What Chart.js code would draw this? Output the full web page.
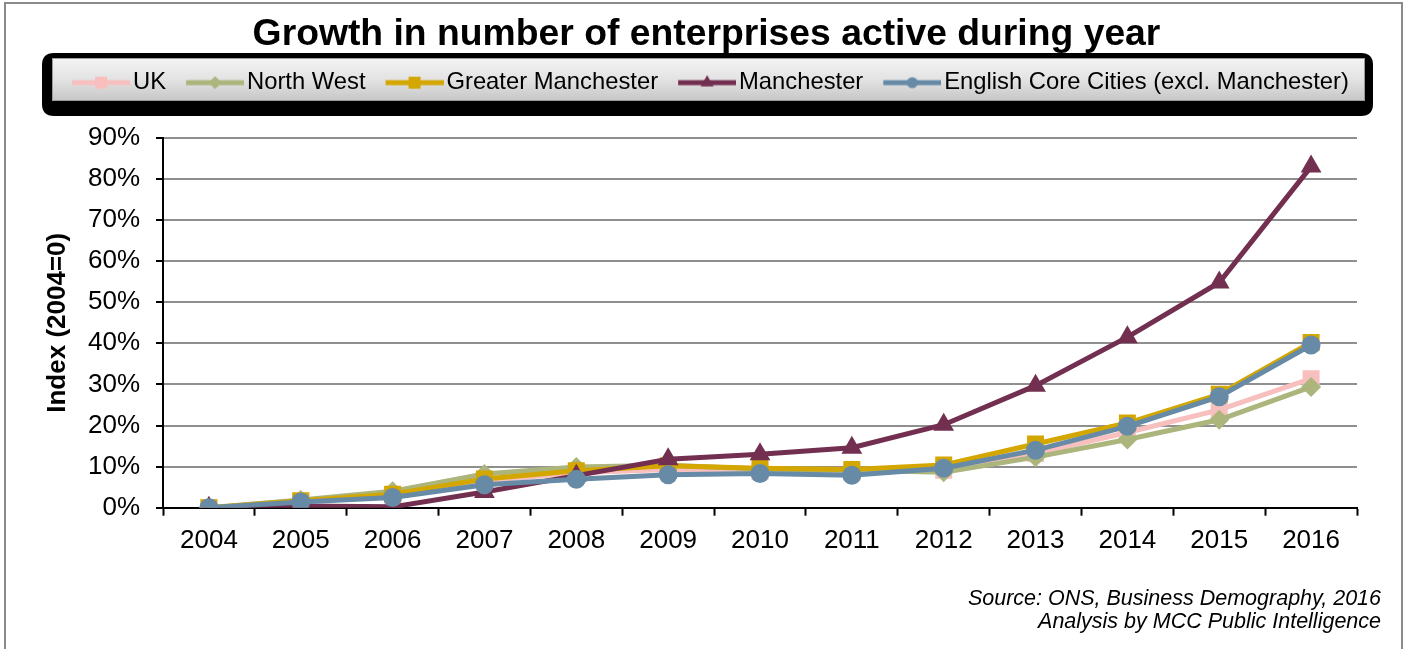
<!DOCTYPE html>
<html>
<head>
<meta charset="utf-8">
<script src="https://cdn.jsdelivr.net/npm/chart.js@4/dist/chart.umd.min.js"></script>
<style>
html,body{margin:0;padding:0;background:#fff;}
canvas{display:block;}
</style>
</head>
<body>
<canvas id="c" width="1406" height="649"></canvas>
<script>
// ---- data ----
const years = ['2004','2005','2006','2007','2008','2009','2010','2011','2012','2013','2014','2015','2016'];
const seriesNames = ['UK','North West','Greater Manchester','Manchester','English Core Cities (excl. Manchester)'];
const ukValues = [0, 1.6, 3.0, 6.5, 8.5, 9.3, 8.8, 8.6, 9.1, 13.2, 18.3, 23.8, 31.4];
const northWestValues = [0, 1.9, 4.0, 8.2, 9.9, 10.3, 9.4, 9.1, 8.6, 12.3, 16.6, 21.4, 29.4];
const greaterManchesterValues = [0, 1.7, 3.3, 7.0, 9.0, 10.2, 9.6, 9.3, 10.4, 15.5, 20.6, 27.6, 40.2];
const manchesterValues = [0, 0.4, 0.2, 3.8, 7.8, 11.8, 13.0, 14.6, 20.2, 29.7, 41.5, 54.8, 83.0];
const coreCitiesValues = [0, 1.4, 2.5, 5.6, 6.9, 8.0, 8.3, 7.9, 9.6, 14.0, 19.8, 27.0, 39.6];
const yTickStep = 10;
const yMin = 0;
const yMax = 90;
const titleText = 'Growth in number of enterprises active during year';
const yAxisTitle = 'Index (2004=0)';
const sourceLines = ['Source: ONS, Business Demography, 2016', 'Analysis by MCC Public Intelligence'];

// ---- styles ----
const colors = ['#f8bfbf', '#abb57c', '#d4a600', '#722f50', '#678ba6'];
const pointStyles = ['rect', 'rectRot', 'rect', 'triangle', 'circle'];
const pointRadii = [12, 10, 12, 12, 9.5];
const legendMarker = [6, 6.5, 6, 7.5, 5.5];

Chart.defaults.font.family = "'Liberation Sans', Arial, sans-serif";
Chart.defaults.color = '#000';

function markerPath(g, style, r, x, y) {
  g.beginPath();
  if (style === 'rect') {
    const s = r * Math.SQRT1_2;
    g.rect(x - s, y - s, 2 * s, 2 * s);
  } else if (style === 'rectRot') {
    g.moveTo(x, y - r); g.lineTo(x + r, y); g.lineTo(x, y + r); g.lineTo(x - r, y); g.closePath();
  } else if (style === 'triangle') {
    const a = 2 * Math.PI / 3;
    g.moveTo(x, y - r);
    g.lineTo(x + Math.sin(a) * r, y - Math.cos(a) * r);
    g.lineTo(x - Math.sin(a) * r, y - Math.cos(a) * r);
    g.closePath();
  } else {
    g.arc(x, y, r, 0, Math.PI * 2);
  }
}
function legendIcon(color, style, r) {
  const c = document.createElement('canvas');
  c.width = 75; c.height = 24;
  const g = c.getContext('2d');
  g.strokeStyle = color; g.lineWidth = 5;
  g.beginPath(); g.moveTo(17, 12); g.lineTo(75, 12); g.stroke();
  g.fillStyle = color;
  const s = style === 'rect' ? r * Math.SQRT2 : r;
  markerPath(g, style, s, 46, 12);
  g.fill();
  return c;
}
const icons = colors.map((c, i) => legendIcon(c, pointStyles[i], legendMarker[i]));

const seriesValues = [ukValues, northWestValues, greaterManchesterValues, manchesterValues, coreCitiesValues];
const datasets = seriesValues.map((vals, i) => ({
  label: seriesNames[i],
  data: vals,
  borderColor: colors[i],
  backgroundColor: colors[i],
  pointBackgroundColor: colors[i],
  pointBorderWidth: 0,
  pointStyle: pointStyles[i],
  pointRadius: pointRadii[i],
  borderWidth: 5,
  tension: 0,
  order: seriesValues.length - i
}));

const framePlugin = {
  id: 'frame',
  beforeDraw(chart) {
    const ctx = chart.ctx;
    ctx.save();
    ctx.fillStyle = '#fff';
    ctx.fillRect(0, 0, chart.width, chart.height);
    // outer frame
    ctx.strokeStyle = '#8a8a8a';
    ctx.lineWidth = 2;
    ctx.beginPath();
    ctx.moveTo(5, chart.height + 2); ctx.lineTo(5, 3); ctx.lineTo(1402, 3); ctx.lineTo(1402, chart.height + 2);
    ctx.stroke();
    // legend box: black rounded frame
    const x = 42, y = 53, w = 1331, h = 63, r = 12;
    ctx.fillStyle = '#000';
    ctx.beginPath();
    ctx.moveTo(x + r, y); ctx.lineTo(x + w - r, y); ctx.quadraticCurveTo(x + w, y, x + w, y + r);
    ctx.lineTo(x + w, y + h - r); ctx.quadraticCurveTo(x + w, y + h, x + w - r, y + h);
    ctx.lineTo(x + r, y + h); ctx.quadraticCurveTo(x, y + h, x, y + h - r);
    ctx.lineTo(x, y + r); ctx.quadraticCurveTo(x, y, x + r, y);
    ctx.closePath(); ctx.fill();
    const ix = 52, iy = 58, iw = 1313, ih = 43;
    const gr = ctx.createLinearGradient(0, iy, 0, iy + ih);
    gr.addColorStop(0, '#f3f3f3');
    gr.addColorStop(0.5, '#e3e3e3');
    gr.addColorStop(1, '#c6c6c6');
    ctx.fillStyle = gr;
    ctx.fillRect(ix, iy, iw, ih);
    ctx.strokeStyle = '#9a9a9a'; ctx.lineWidth = 1;
    ctx.strokeRect(ix + 0.5, iy + 0.5, iw - 1, ih - 1);
    ctx.restore();
  }
};

new Chart(document.getElementById('c'), {
  type: 'line',
  data: { labels: years, datasets: datasets },
  plugins: [framePlugin],
  options: {
    responsive: false,
    maintainAspectRatio: false,
    devicePixelRatio: 1,
    animation: false,
    events: [],
    layout: { padding: { left: 32, right: 25, top: 0, bottom: 0 } },
    plugins: {
      tooltip: { enabled: false },
      title: {
        display: true, text: titleText, color: '#000',
        font: { size: 37.3, weight: 'bold' },
        padding: { top: 12, bottom: 2 }
      },
      subtitle: {
        display: true, position: 'bottom', align: 'end', text: sourceLines, color: '#000',
        font: { size: 21.5, style: 'italic', lineHeight: 1.07 },
        padding: { top: 30.8, bottom: 15.5 }
      },
      legend: {
        display: true, position: 'top',
        labels: {
          usePointStyle: true,
          pointStyleWidth: 57,
          padding: 12,
          color: '#000',
          font: { size: 23.8 },
          generateLabels(chart) {
            return chart.data.datasets.map((ds, i) => ({
              text: ds.label,
              fillStyle: ds.borderColor,
              strokeStyle: ds.borderColor,
              lineWidth: 0,
              pointStyle: icons[i],
              hidden: !chart.isDatasetVisible(i),
              datasetIndex: i,
              fontColor: '#000'
            }));
          }
        }
      }
    },
    scales: {
      x: {
        type: 'category',
        offset: true,
        grid: { offset: true, drawOnChartArea: false, drawTicks: true, tickLength: 8, tickColor: '#000', tickWidth: 2, color: '#000' },
        border: { color: '#000', width: 2 },
        ticks: { font: { size: 26 }, color: '#000', padding: 10, maxRotation: 0, autoSkip: false },
        afterFit(s) { s.height = 49; }
      },
      x2: {
        type: 'category', position: 'top', display: true,
        grid: { display: false }, ticks: { display: false }, border: { display: false },
        afterFit(s) { s.height = 33.3; }
      },
      y: {
        min: yMin, max: yMax,
        ticks: { stepSize: yTickStep, callback: v => v + '%', font: { size: 26 }, color: '#000', padding: 16 },
        grid: { color: '#8f8f8f', lineWidth: 2, tickLength: 7, tickColor: '#000', tickWidth: 2 },
        border: { color: '#000', width: 2 },
        title: { display: true, text: yAxisTitle, color: '#000', font: { size: 26, weight: 'bold' }, padding: { top: 10, bottom: 0 } },
        afterFit(s) { s.width = 131; }
      },
      y2: {
        position: 'right', display: true,
        grid: { display: false }, ticks: { display: false }, border: { display: false },
        afterFit(s) { s.width = 24; }
      }
    }
  }
});
</script>
</body>
</html>
